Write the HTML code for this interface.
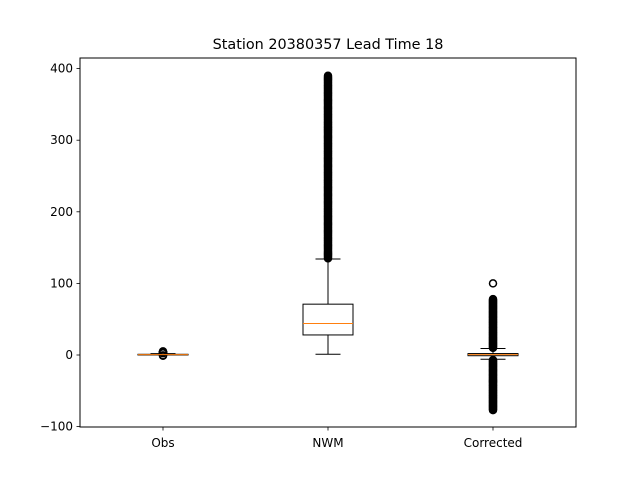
<!DOCTYPE html>
<html><head><meta charset="utf-8"><style>
html,body{margin:0;padding:0;background:#fff;}
svg text{font-family:"DejaVu Sans","Liberation Sans",sans-serif;fill:#000;}
</style></head><body>
<svg id="chart" width="640" height="480" viewBox="0 0 640 480" xmlns="http://www.w3.org/2000/svg">
<rect width="640" height="480" fill="#fff"/>
<text x="328" y="49" font-size="14.4" text-anchor="middle">Station 20380357 Lead Time 18</text>
<g id="plot"></g>
<rect x="80" y="58" width="496" height="369" fill="none" stroke="#000" stroke-width="1"/>
</svg>
<script>
const categories = ["Obs", "NWM", "Corrected"];
const q1 = [0, 28, -1];
const medians = [0.5, 44, 0.5];
const q3 = [1, 71, 2];
const whiskerLow = [0, 1, -6];
const whiskerHigh = [2, 134, 9];
const yTicks = [-100, 0, 100, 200, 300, 400];
const outliersObs = [2.5, 3, 3.25, 3.5, 3.75, 4, 4.25, 4.5, 4.75, 5, -0.5, -1];
const outliersNWM = [135,136.5,138,139.5,141,142.5,144,145.5,147,148.5,150,151.5,153,154.5,156,157.5,159,160.5,162,163.5,165,166.5,168,169.5,171,172.5,174,175.5,177,178.5,180,181.5,183,184.5,186,187.5,189,190.5,192,193.5,195,196.5,198,199.5,201,202.5,204,205.5,207,208.5,210,211.5,213,214.5,216,217.5,219,220.5,222,223.5,225,226.5,228,229.5,231,232.5,234,235.5,237,238.5,240,241.5,243,244.5,246,247.5,249,250.5,252,253.5,255,256.5,258,259.5,261,262.5,264,265.5,267,268.5,270,271.5,273,274.5,276,277.5,279,280.5,282,283.5,285,286.5,288,289.5,291,292.5,294,295.5,297,298.5,300,301.5,303,304.5,306,307.5,309,310.5,312,313.5,315,316.5,318,319.5,321,322.5,324,325.5,327,328.5,330,331.5,333,334.5,336,337.5,339,340.5,342,343.5,345,346.5,348,349.5,351,352.5,354,355.5,357,358.5,360,361.5,363,364.5,366,367.5,369,370.5,372,373.5,375,376.5,378,379.5,381,382.5,384,385.5,387,388.5,390];
const outliersCorr = [10,11,12,13,14,15,16,17,18,19,20,21,22,23,24,25,26,27,28,29,30,31,32,33,34,35,36,37,38,39,40,41,42,43,44,45,46,47,48,49,50,51,52,53,54,55,56,57,58,59,60,61,62,63,64,65,66,67,68,69,70,71,72,73,74,75,76,77,78,100,-7,-8,-9,-10,-11,-12,-13,-14,-15,-16,-17,-18,-19,-20,-21,-22,-23,-24,-25,-26,-27,-28,-29,-30,-31,-32,-33,-34,-35,-36,-37,-38,-39,-40,-41,-42,-43,-44,-45,-46,-47,-48,-49,-50,-51,-52,-53,-54,-55,-56,-57,-58,-59,-60,-61,-62,-63,-64,-65,-66,-67,-68,-69,-70,-71,-72,-73,-74,-75,-76,-77];
const outliers = [outliersObs, outliersNWM, outliersCorr];

const NS = "http://www.w3.org/2000/svg";
const plot = document.getElementById('plot');
function y(v){ return 355 - v * 0.716; }
function x(i){ return 163 + i * 165; }
function mk(tag, attrs){ const e = document.createElementNS(NS, tag); for (const k in attrs) e.setAttribute(k, attrs[k]); plot.appendChild(e); return e; }

yTicks.forEach(t => {
  const tk = mk('line', {x1:76.5, x2:80, y1:y(t), y2:y(t), stroke:'#000', 'stroke-width':0.8});
  
  
  const lb = mk('text', {x:73, y:y(t)+4, 'font-size':12, 'text-anchor':'end'});
  lb.textContent = t < 0 ? '\u2212' + Math.abs(t) : String(t);
  
  
});

categories.forEach((c, i) => {
  const cx = x(i);
  const tk = mk('line', {x1:cx, x2:cx, y1:427, y2:430.5, stroke:'#000', 'stroke-width':0.8});
  
  
  const lb = mk('text', {x:cx, y:447, 'font-size':12, 'text-anchor':'middle'});
  lb.textContent = c;
  
  

  const g = mk('g', {});
  
  
  function add(tag, attrs){ const e = document.createElementNS(NS, tag); for (const k in attrs) e.setAttribute(k, attrs[k]); g.appendChild(e); return e; }
  add('line', {x1:cx, x2:cx, y1:y(q1[i]), y2:y(whiskerLow[i]), stroke:'#000', 'stroke-width':1});
  add('line', {x1:cx, x2:cx, y1:y(q3[i]), y2:y(whiskerHigh[i]), stroke:'#000', 'stroke-width':1});
  add('line', {x1:cx-12.5, x2:cx+12.5, y1:y(whiskerLow[i]), y2:y(whiskerLow[i]), stroke:'#000', 'stroke-width':1});
  add('line', {x1:cx-12.5, x2:cx+12.5, y1:y(whiskerHigh[i]), y2:y(whiskerHigh[i]), stroke:'#000', 'stroke-width':1});
  outliers[i].forEach(v => {
    const o = add('circle', {cx:cx, cy:y(v), r:3.5, fill:'none', stroke:'#000', 'stroke-width':1.5});
    
    
  });
  add('rect', {x:cx-25, y:y(q3[i]), width:50, height:Math.max(0.5, y(q1[i]) - y(q3[i])), fill:'none', stroke:'#000', 'stroke-width':1});
  add('line', {x1:cx-25, x2:cx+25, y1:y(medians[i]), y2:y(medians[i]), stroke:'#ff7f0e', 'stroke-width':1});
});
</script>
</body></html>
